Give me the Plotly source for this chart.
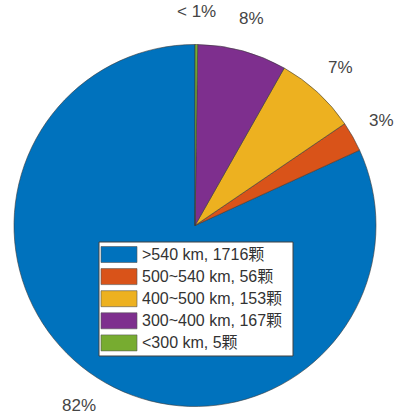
import math
import plotly.graph_objects as go

# ---- data ----
categories = [">540 km, 1716颗", "500~540 km, 56颗", "400~500 km, 153颗",
              "300~400 km, 167颗", "<300 km, 5颗"]
counts = [1716, 56, 153, 167, 5]
colors = ["#0072BD", "#D95319", "#EDB120", "#7E2F8E", "#77AC30"]

# ---- layout constants (pixels) ----
W, H = 395, 414
CX, CY = 195, 225.5        # pie centre (from top-left)
R = 181                    # pie radius
LABEL_R = 1.185 * R

total = sum(counts)
# slices run counter-clockwise from 12 o'clock, first slice first
first_deg = 360.0 * counts[0] / total
rotation = 360.0 - first_deg

fig = go.Figure(go.Pie(
    labels=categories, values=counts, sort=False,
    direction="counterclockwise", rotation=rotation,
    marker=dict(colors=colors, line=dict(color="#3a3a3a", width=0.6)),
    textinfo="none", hoverinfo="skip", showlegend=False,
    domain=dict(x=[(CX - R) / W, (CX + R) / W],
                y=[(H - CY - R) / H, (H - CY + R) / H]),
))

acc = 0.0
annotations = []
for v in counts:
    frac = v / total
    mid = acc + frac / 2          # fraction counter-clockwise from 12 o'clock
    acc += frac
    ang = math.pi / 2 + mid * 2 * math.pi   # math angle (ccw from +x)
    px = CX + LABEL_R * math.cos(ang)
    py = CY - LABEL_R * math.sin(ang)
    pct = frac * 100
    txt = "< 1%" if pct < 1 else f"{round(pct)}%"
    annotations.append(dict(
        x=px / W, y=1 - py / H, xref="paper", yref="paper",
        text=txt, showarrow=False, xanchor="center", yanchor="middle",
        font=dict(family="Liberation Sans, Arial, sans-serif", size=17, color="#454545"),
    ))

# ---- legend box (drawn as shapes + text) ----
LX0, LX1, LY0, LY1 = 99, 293, 242, 356
ROW0, ROWSTEP, PATCH_H = 254.5, 22.1, 16
PX0, PX1, TX = 101, 137, 140
shapes = [dict(type="rect", xref="paper", yref="paper",
               x0=LX0 / W, x1=LX1 / W, y0=1 - LY1 / H, y1=1 - LY0 / H,
               fillcolor="white", line=dict(color="#404040", width=1), layer="above")]
for i, (lab, col) in enumerate(zip(categories, colors)):
    yc = ROW0 + i * ROWSTEP
    shapes.append(dict(type="rect", xref="paper", yref="paper",
                       x0=PX0 / W, x1=PX1 / W,
                       y0=1 - (yc + PATCH_H / 2) / H, y1=1 - (yc - PATCH_H / 2) / H,
                       fillcolor=col, line=dict(color="#555555", width=0.6), layer="above"))
    annotations.append(dict(
        x=TX / W, y=1 - yc / H, xref="paper", yref="paper", text=lab,
        showarrow=False, xanchor="left", yanchor="middle",
        font=dict(family="Liberation Sans, Noto Sans CJK SC, Arial, sans-serif",
                  size=16, color="#333333"),
    ))

fig.update_layout(
    width=W, height=H, margin=dict(l=0, r=0, t=0, b=0),
    paper_bgcolor="white", plot_bgcolor="white",
    annotations=annotations, shapes=shapes,
)

fig.write_html("out.html")
